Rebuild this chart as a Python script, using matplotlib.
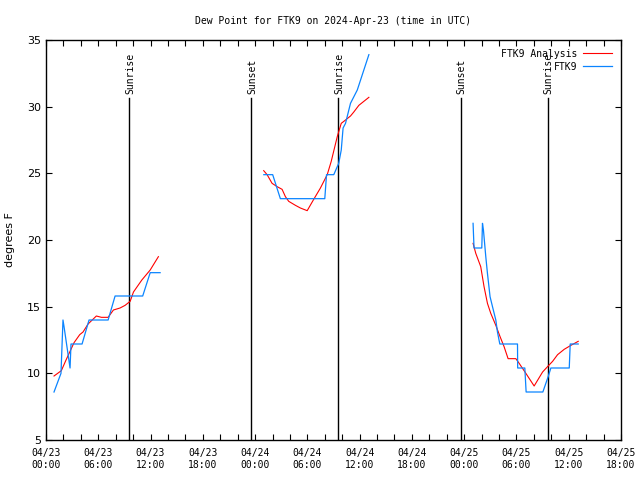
import matplotlib
matplotlib.use('Agg')
import matplotlib.pyplot as plt
import numpy as np

# hours since 04/23 00:00 UTC
obs_hours = [0.92, 1.72, 1.95, 2.07, 2.76, 2.87, 4.14, 4.94, 7.13, 7.93, 11.1, 11.96, 13.1,
             25.0, 26.02, 26.9, 32.0, 32.2, 33.03, 33.6, 33.89, 34.1, 34.38, 34.95, 35.73, 37.06,
             49.02, 49.13, 50.02, 50.1, 50.21, 50.48, 50.67, 50.97, 51.25, 51.63, 51.82, 52.09,
             54.12, 54.14, 54.96, 55.11, 57.03, 57.64, 57.95, 60.06, 60.17, 61.09]
obs_vals = [8.6, 10.0, 14.0, 13.5, 10.4, 12.2, 12.2, 14.0, 14.0, 15.8, 15.8, 17.55, 17.55,
            24.9, 24.9, 23.1, 23.1, 24.9, 24.9, 25.75, 26.75, 28.4, 28.75, 30.25, 31.25, 33.9,
            21.25, 19.4, 19.4, 21.25, 20.75, 18.75, 17.5, 15.75, 15.0, 14.0, 13.1, 12.2,
            12.2, 10.4, 10.4, 8.6, 8.6, 9.75, 10.4, 10.4, 12.2, 12.2]

ana_hours = [0.92, 1.76, 2.3, 3.22, 3.87, 4.25, 4.83, 5.78, 6.36, 7.13, 7.74, 8.5, 9.08, 9.66,
             10.04, 11.0, 11.96, 12.9,
             24.99, 25.38, 25.95, 26.53, 27.1, 27.48, 27.86, 28.63, 29.2, 29.98, 30.73, 31.5,
             32.28, 32.74, 33.43, 33.89, 34.19, 34.95, 35.33, 35.91, 37.06,
             49.02, 49.33, 49.9, 50.28, 50.67, 51.05, 51.63, 52.12, 52.58, 53.04, 53.93, 54.31,
             55.08, 56.03, 57.0, 57.64, 58.15, 58.72, 59.48, 60.25, 61.09]
ana_vals = [9.8, 10.2, 11.0, 12.3, 12.9, 13.1, 13.7, 14.3, 14.2, 14.2, 14.75, 14.9, 15.1, 15.4,
            16.1, 17.0, 17.75, 18.75,
            25.2, 24.9, 24.25, 24.0, 23.8, 23.25, 22.9, 22.6, 22.4, 22.2, 23.05, 23.9,
            24.9, 25.9, 27.75, 28.75, 28.9, 29.3, 29.6, 30.1, 30.7,
            19.75, 19.0, 18.0, 16.5, 15.25, 14.5, 13.6, 12.75, 12.0, 11.1, 11.1, 10.75,
            10.0, 9.05, 10.1, 10.55, 10.9, 11.4, 11.8, 12.1, 12.4]

# break gaps between the days
def with_gaps(h, v, gap=6):
    h = np.array(h, dtype=float)
    v = np.array(v, dtype=float)
    out_h, out_v = [h[0]], [v[0]]
    for i in range(1, len(h)):
        if h[i] - h[i - 1] > gap:
            out_h.append(np.nan)
            out_v.append(np.nan)
        out_h.append(h[i])
        out_v.append(v[i])
    return out_h, out_v

sun_hours = [9.54, 23.57, 33.57, 47.6, 57.6]
sun_labels = ['Sunrise', 'Sunset', 'Sunrise', 'Sunset', 'Sunrise']

tick_hours = np.arange(0, 67, 6)
tick_labels = ['04/23\n00:00', '04/23\n06:00', '04/23\n12:00', '04/23\n18:00',
               '04/24\n00:00', '04/24\n06:00', '04/24\n12:00', '04/24\n18:00',
               '04/25\n00:00', '04/25\n06:00', '04/25\n12:00', '04/25\n18:00']

mono = 'DejaVu Sans Mono'

fig = plt.figure(figsize=(6.4, 4.8), dpi=100)
ax = fig.add_axes([46 / 640, 40 / 480, 575 / 640, 400 / 480])

for h, lab in zip(sun_hours, sun_labels):
    ax.plot([h, h], [5, 30.65], color='black', linewidth=1.0)
    ax.text(h + 0.1, 30.95, lab, rotation=90, ha='center', va='bottom',
            fontsize=7, family=mono)

ah, av = with_gaps(ana_hours, ana_vals)
oh, ov = with_gaps(obs_hours, obs_vals)
ax.plot(ah, av, color='#ff0000', linewidth=0.8, label='FTK9 Analysis')
ax.plot(oh, ov, color='#0a84ff', linewidth=0.9, label='FTK9')

ax.set_xlim(0, 66)
ax.set_ylim(5, 35)
ax.set_xticks(tick_hours)
ax.set_xticklabels(tick_labels, family=mono, fontsize=7)
ax.set_xticks(np.arange(0, 67, 2), minor=True)
ax.set_yticks(np.arange(5, 36, 5))
ax.tick_params(axis='both', which='both', direction='in', top=True, right=True,
               length=4, width=0.8)
ax.tick_params(axis='x', pad=6)
ax.tick_params(axis='y', labelsize=8)
for s in ax.spines.values():
    s.set_linewidth(1.0)

ax.set_ylabel('degrees F', fontsize=8)
ax.yaxis.set_label_coords(-0.054, 0.5)
ax.set_title('Dew Point for FTK9 on 2024-Apr-23 (time in UTC)', family=mono,
             fontsize=7, pad=11.5)

ax.legend(loc='upper right', frameon=False, markerfirst=False,
          prop={'family': mono, 'size': 7}, handlelength=3.0, handletextpad=0.6,
          labelspacing=0.3, borderaxespad=0.5)

plt.savefig('out.png', dpi=100)
